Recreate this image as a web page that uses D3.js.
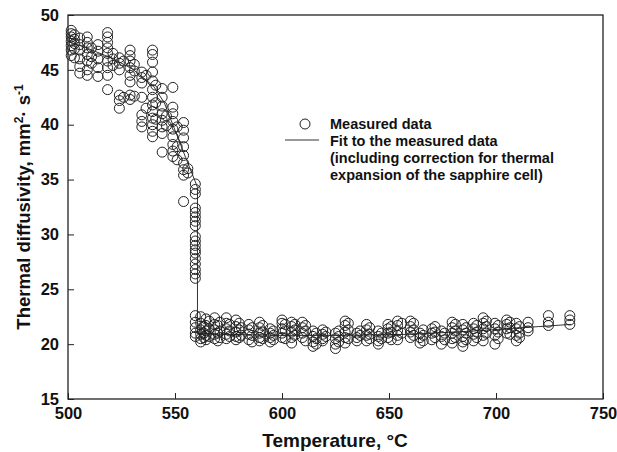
<!DOCTYPE html>
<html>
  <head>
    <title>Thermal diffusivity</title>
    <style>
      body { margin: 0; background: #fff; }
      text { font-family: "Liberation Sans", Arial, sans-serif; font-weight: bold; fill: #111; }
    </style>
  </head>
  <body>
    <script src="https://cdnjs.cloudflare.com/ajax/libs/d3/7.8.5/d3.min.js"></script>
    <script>
      // measured data, one column per temperature step
      let columnT = [501.5, 503, 505.5, 509, 511, 514, 518.5, 521, 524, 526, 529, 531,
                     534.5, 536.5, 539.5, 541, 544, 546, 549, 551, 554, 556, 559.5,
                     562, 564.5, 568.5, 571, 574, 578.5, 581, 584.5, 589.5, 594.5, 600,
                     601.5, 604.5, 609.5, 614.5, 619, 625, 629.5, 635, 639.5, 645, 649.5,
                     654, 656, 660, 664.5, 670, 674.5, 679.5, 684.5, 689.5, 694, 699.5,
                     705, 709.5, 715, 724.5, 734.5];

      let columnD = [
        [48.6, 48.3, 48.0, 47.6, 47.2, 46.8, 46.3],
        [48.2, 47.8, 47.4, 46.9, 46.1],
        [47.9, 47.3, 46.8, 46.0, 45.3, 44.7],
        [48.0, 47.5, 47.0, 46.4, 45.8, 45.0, 44.5],
        [47.0, 46.2, 45.6],
        [47.3, 46.7, 46.0, 45.2, 44.4],
        [48.4, 48.0, 47.5, 47.0, 46.5, 45.8, 45.2, 44.5, 43.2],
        [46.5, 46.0, 45.4],
        [46.1, 45.6, 45.0, 42.7, 42.2, 41.5],
        [45.8, 42.5],
        [46.8, 46.3, 45.8, 45.2, 44.5, 43.9, 42.7, 42.3],
        [45.5, 44.9, 42.6],
        [44.8, 44.3, 43.8, 42.5, 40.9, 40.3, 39.8],
        [44.5, 41.5],
        [46.8, 46.4, 45.7, 44.8, 44.0, 43.2, 42.5, 41.8, 41.2, 40.6, 40.0, 39.4, 38.9],
        [43.6, 42.0, 40.5],
        [43.3, 42.5, 41.7, 41.0, 40.4, 39.8, 39.2, 37.5],
        [40.8, 39.9],
        [43.4, 41.6, 41.0, 40.3, 39.6, 38.9, 38.2, 37.6, 37.1],
        [39.8, 38.0, 36.8],
        [40.2, 39.5, 38.8, 38.0, 37.2, 36.5, 35.9, 35.4, 33.0],
        [36.0, 35.6],
        [34.6, 34.1, 33.7, 32.4, 32.0, 31.6, 31.2, 30.8, 29.8, 29.4, 29.0, 28.6, 28.3,
         27.8, 27.3, 26.8, 26.4, 26.0, 22.6, 22.0, 21.5, 21.0, 20.7],
        [22.5, 21.9, 21.3, 20.9, 20.5, 20.2],
        [22.3, 21.7, 21.2, 20.8, 20.4],
        [22.4, 21.8, 21.3, 20.9, 20.5],
        [22.0, 21.2, 20.6],
        [22.4, 21.9, 21.4, 20.9, 20.5],
        [22.2, 21.6, 21.1, 20.7, 20.4],
        [21.5, 20.8],
        [21.8, 21.3, 20.9, 20.4],
        [22.0, 21.5, 21.0, 20.6, 20.3],
        [21.4, 21.0, 20.6, 20.2],
        [22.2, 21.9, 21.4, 21.0, 20.6],
        [21.8, 21.2, 20.5],
        [22.0, 21.6, 21.1, 20.6, 20.1],
        [22.0, 21.5, 21.0, 20.6],
        [21.2, 20.7, 20.2, 19.8],
        [21.3, 20.9, 20.5, 20.3],
        [21.0, 20.5, 20.0, 19.6],
        [22.1, 21.7, 21.1, 20.6, 20.1],
        [21.0, 20.6, 20.3],
        [21.8, 21.3, 20.8, 20.3],
        [21.2, 20.7, 20.3, 20.0],
        [21.8, 21.4, 21.0, 20.6],
        [22.1, 21.7, 21.2, 20.8, 20.4],
        [21.9, 21.0],
        [22.1, 21.6, 21.1, 20.6],
        [21.0, 20.6, 20.1],
        [21.4, 21.0, 20.4],
        [21.2, 20.7, 20.0],
        [22.0, 21.5, 21.0, 20.5, 20.1],
        [21.8, 21.3, 20.7, 20.2, 19.8],
        [21.9, 21.4, 20.9, 20.3],
        [22.4, 21.9, 21.4, 20.8, 20.3],
        [21.9, 21.4, 20.8, 20.0],
        [22.2, 21.8, 21.4, 21.0],
        [21.9, 21.4, 20.8, 20.3],
        [22.0, 21.5, 21.2],
        [22.6, 22.0, 21.7],
        [22.6, 22.2, 21.8]
      ];

      // second run, slightly offset columns in the plateau
      let run2T = [563.5, 566, 570, 575.5, 580, 586, 591, 596, 606, 611, 616, 620.5,
                   626.5, 631, 636.5, 641, 646.5, 651, 661.5, 666, 671.5, 676, 681,
                   686, 691, 695.5, 701, 706.5, 711];
      let run2D = [
        [21.6, 21.0, 20.6],
        [22.1, 21.4, 20.7],
        [21.7, 21.0, 20.3],
        [21.8, 21.2, 20.7],
        [21.9, 21.3, 20.6],
        [21.5, 20.8, 20.2],
        [21.7, 21.1, 20.5],
        [21.2, 20.8, 20.4],
        [21.8, 21.3, 20.8],
        [21.7, 21.2, 20.3],
        [21.0, 20.5, 20.0],
        [21.1, 20.7],
        [21.2, 20.7, 20.2],
        [21.9, 21.3, 20.5],
        [21.2, 20.8],
        [21.5, 20.9, 20.5],
        [21.0, 20.5],
        [21.6, 21.1, 20.4],
        [21.9, 21.3, 20.8],
        [21.3, 20.8, 20.3],
        [21.6, 21.1, 20.6],
        [21.0, 20.4],
        [21.8, 21.2, 20.6],
        [21.5, 21.0, 20.4],
        [21.7, 21.1, 20.6],
        [22.1, 21.6, 21.0],
        [21.7, 21.1, 20.5],
        [22.0, 21.5, 20.9],
        [21.6, 21.0, 20.6]
      ];

      // fit curve
      let fitT = [500, 510, 520, 530, 540, 545, 550, 555, 560.5, 560.5, 570, 600, 630, 660, 690, 720, 735];
      let fitD = [47.6, 46.9, 46.1, 45.1, 43.5, 42.0, 39.5, 37.0, 34.3, 21.0, 20.9, 20.8, 20.8, 20.9, 21.2, 21.6, 21.8];

      let xTicks = [500, 550, 600, 650, 700, 750];
      let yTicks = [15, 20, 25, 30, 35, 40, 45, 50];

      let legendLines = ['Fit to the measured data',
                         '(including correction for thermal',
                         'expansion of the sapphire cell)'];

      let points = [];
      columnT.forEach((t, i) => columnD[i].forEach((d) => points.push([t, d])));
      run2T.forEach((t, i) => run2D[i].forEach((d) => points.push([t, d])));

      let svg = d3.select('body')
                  .append('svg')
                  .attr('width', 617)
                  .attr('height', 452);

      let x = d3.scaleLinear().domain([500, 750]).range([68, 603]);
      let y = d3.scaleLinear().domain([15, 50]).range([399, 15]);

      let xAxis = svg.append('g')
                     .attr('transform', 'translate(0,399)')
                     .call(d3.axisBottom(x).tickValues(xTicks).tickSize(-6).tickPadding(8));
      let yAxis = svg.append('g')
                     .attr('transform', 'translate(68,0)')
                     .call(d3.axisLeft(y).tickValues(yTicks).tickSize(-6).tickPadding(9));

      [xAxis, yAxis].forEach((g) => {
        g.select('.domain').remove();
        g.selectAll('line').attr('stroke', '#222');
        g.selectAll('text')
         .style('font-family', '"Liberation Sans", Arial, sans-serif')
         .style('font-weight', 'bold')
         .style('font-size', '16.5px')
         .attr('fill', '#111');
      });

      svg.append('rect')
         .attr('x', x(500))
         .attr('y', y(50))
         .attr('width', x(750) - x(500))
         .attr('height', y(15) - y(50))
         .attr('fill', 'none')
         .attr('stroke', '#222')
         .attr('stroke-width', 1.3);

      let line = d3.line()
                   .x((d) => x(d[0]))
                   .y((d) => y(d[1]))
                   .curve(d3.curveLinear);

      svg.append('path')
         .attr('d', line(fitT.map((t, i) => [t, fitD[i]])))
         .attr('fill', 'none')
         .attr('stroke', '#333')
         .attr('stroke-width', 1);

      svg.selectAll('circle.pt')
         .data(points)
         .enter()
           .append('circle')
           .attr('class', 'pt')
           .attr('cx', (d) => x(d[0]))
           .attr('cy', (d) => y(d[1]))
           .attr('r', 5)
           .attr('fill', 'none')
           .attr('stroke', '#222')
           .attr('stroke-width', 1);

      // legend
      svg.append('circle')
         .attr('cx', 305).attr('cy', 124).attr('r', 5)
         .attr('fill', 'none').attr('stroke', '#222').attr('stroke-width', 1);
      svg.append('text')
         .attr('x', 330).attr('y', 129)
         .style('font-size', '14.5px')
         .text('Measured data');
      svg.append('line')
         .attr('x1', 285).attr('x2', 319)
         .attr('y1', 140).attr('y2', 140)
         .attr('stroke', '#333').attr('stroke-width', 1);
      svg.selectAll('text.leg')
         .data(legendLines)
         .enter()
           .append('text')
           .attr('class', 'leg')
           .attr('x', 330)
           .attr('y', (d, i) => 146 + i * 17)
           .style('font-size', '14.5px')
           .text((d) => d);

      // axis titles
      svg.append('text')
         .attr('x', 335).attr('y', 447)
         .attr('text-anchor', 'middle')
         .style('font-size', '19px')
         .text('Temperature, °C');

      let yTitle = svg.append('text')
                      .attr('transform', 'translate(30,' + y(32.5) + ') rotate(-90)')
                      .attr('text-anchor', 'middle')
                      .style('font-size', '18.5px');
      yTitle.append('tspan').text('Thermal diffusivity, mm');
      yTitle.append('tspan').attr('dy', -7).style('font-size', '12px').text('2');
      yTitle.append('tspan').attr('dy', 7).text('· s');
      yTitle.append('tspan').attr('dy', -7).style('font-size', '12px').text('-1');
    </script>
  </body>
</html>
